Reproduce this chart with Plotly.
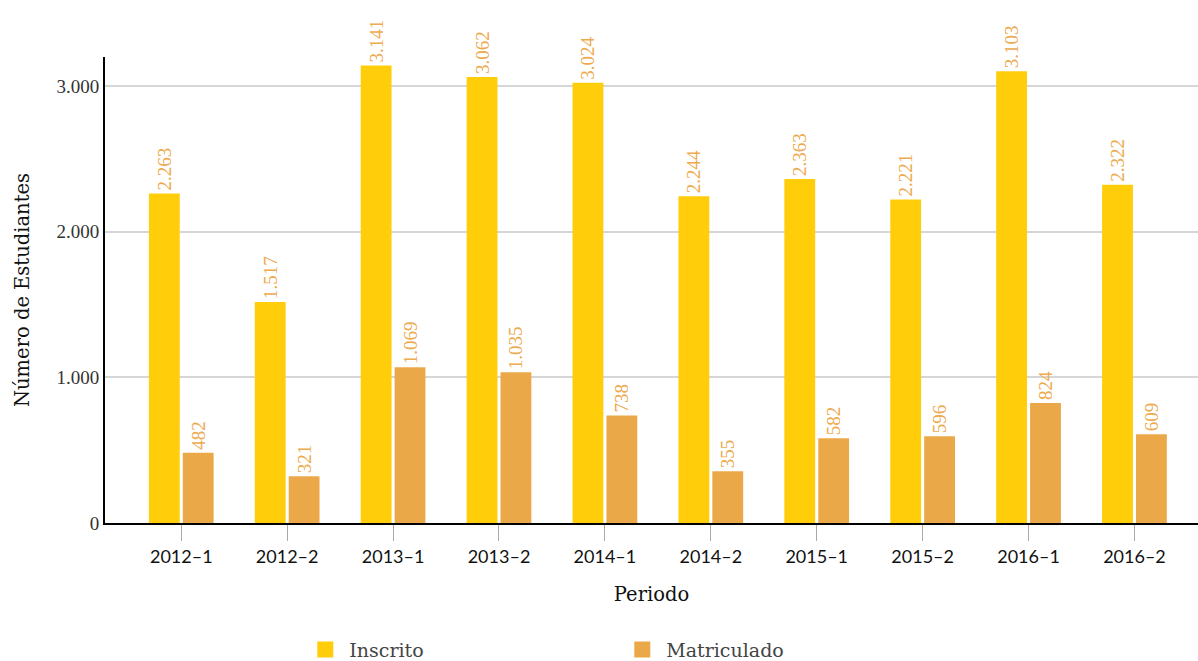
import plotly.graph_objects as go

# --- data ---
periodos = ['2012–1', '2012–2', '2013–1', '2013–2', '2014–1',
            '2014–2', '2015–1', '2015–2', '2016–1', '2016–2']
inscrito = [2263, 1517, 3141, 3062, 3024, 2244, 2363, 2221, 3103, 2322]
matriculado = [482, 321, 1069, 1035, 738, 355, 582, 596, 824, 609]

amarillo = '#FFCD0A'
naranja = '#EBA849'
label_font = dict(family='Liberation Serif', size=19, color='#EDAA4E')

fig = go.Figure()
for nombre, valores, color in [('Inscrito', inscrito, amarillo),
                               ('Matriculado', matriculado, naranja)]:
    fig.add_bar(x=periodos, y=valores, name=nombre, legendgroup=nombre,
                showlegend=False,
                marker=dict(color=color, line=dict(width=0)),
                texttemplate='%{y:,}', textposition='outside', textangle=-90,
                textfont=label_font, cliponaxis=False, constraintext='none')
    # legend-only entry with a bigger square swatch
    fig.add_scatter(x=[None], y=[None], name=nombre, legendgroup=nombre,
                    mode='markers', marker=dict(symbol='square', size=20, color=color))

fig.update_layout(
    width=1198, height=661,
    paper_bgcolor='white', plot_bgcolor='white',
    separators=',.',
    barmode='group', bargap=0.36, bargroupgap=0.09,
    margin=dict(l=105, r=0, t=57, b=138),
    showlegend=True,
    legend=dict(orientation='h', xref='container', yref='container',
                x=0.2515, xanchor='left', y=0.017, yanchor='middle',
                font=dict(family='DejaVu Serif', size=19, color='#444444'),
                itemwidth=38, entrywidth=264, entrywidthmode='pixels'),
    xaxis=dict(range=[-0.72, 9.6], showline=True, linecolor='black', linewidth=2,
               automargin=False,
               ticks='outside', ticklen=16, tickcolor='#aaaaaa', tickwidth=1,
               tickfont=dict(family='Lato', size=18, color='#111111'),
               title=dict(text='Periodo', standoff=22,
                          font=dict(family='DejaVu Serif', size=19.5, color='#111111'))),
    yaxis=dict(range=[0, 3200], tickvals=[0, 1000, 2000, 3000],
               tickformat=',d', showline=True, linecolor='black', linewidth=2,
               automargin=False,
               showgrid=True, gridcolor='#d6d6d6', gridwidth=1.5, zeroline=False,
               ticks='outside', ticklen=0,
               tickfont=dict(family='Liberation Serif', size=19, color='#333333'),
               title=dict(text='Número de Estudiantes', standoff=22,
                          font=dict(family='DejaVu Serif', size=19.5, color='#111111'))),
)

fig.write_html('out.html', config={'displayModeBar': False},
               post_script="document.body.style.margin='0';")
